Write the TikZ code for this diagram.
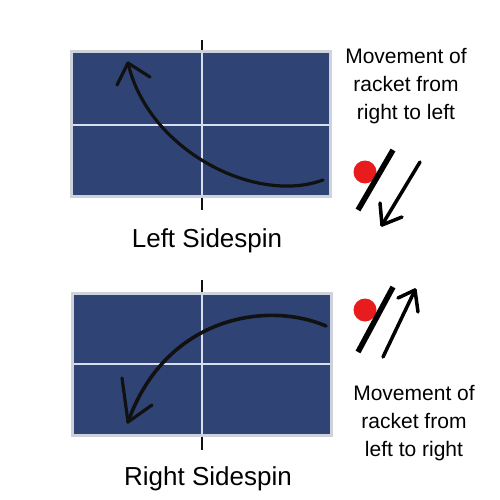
\documentclass[tikz,border=0pt]{standalone}
\usepackage{fontspec}
\setmainfont{Liberation Sans}
\usetikzlibrary{arrows.meta,positioning,calc}
\definecolor{tableblue}{HTML}{2F4474}
\definecolor{tableedge}{HTML}{CDD2DB}
\definecolor{tableline}{HTML}{D6DEF0}
\definecolor{ballred}{HTML}{E81C1C}
\definecolor{ink}{HTML}{111111}
\tikzset{
  tabletop/.style={fill=tableblue,draw=tableedge,line width=3pt},
  centreline/.style={draw=tableline,line width=1.4pt},
  netpost/.style={draw=ink,line width=2.6pt},
  spinpath/.style={draw=ink,line width=3.2pt,line cap=round},
  barb/.style={draw=ink,line width=3.2pt,line cap=round},
  racket/.style={draw=black,line width=5.5pt},
  moveline/.style={draw=black,line width=3.5pt,line cap=round},
  ball/.style={circle,fill=ballred,minimum size=23pt,inner sep=0pt},
  spintitle/.style={font=\fontsize{26}{31}\selectfont,anchor=base,inner sep=0pt},
  movenote/.style={font=\fontsize{21}{28}\selectfont,align=center}
}
\begin{document}
\begin{tikzpicture}[x=1pt,y=-1pt]
  \useasboundingbox[fill=white] (0,0) rectangle (500,500);

  % left sidespin table
  \draw[netpost] (202,40) -- (202,210);
  \draw[tabletop] (71.5,51.5) rectangle (330.5,196.5);
  \draw[centreline] (73,125) -- (329,125);
  \draw[centreline] (202,53) -- (202,195);
  \coordinate (lstart) at (323,180);
  \coordinate (ltip) at (128,63);
  \draw[spinpath] (lstart) .. controls (255,205) and (148,150) .. (ltip);
  \draw[barb] (ltip) -- ++(-11,22);
  \draw[barb] (ltip) -- ++(22,14);
  \node[spintitle] (lefttitle) at (207,247) {Left Sidespin};

  % racket right to left
  \node[movenote] (leftnote) at (406,86) {Movement of\\racket from\\right to left};
  \node[ball] (lball) at (365,172) {};
  \coordinate (lracktop) at (393,150);
  \coordinate (lrackbot) at (358,210);
  \draw[racket] (lracktop) -- (lrackbot);
  \coordinate (lmovefrom) at (420,162);
  \coordinate (lmoveto) at (382,225);
  \draw[moveline] (lmovefrom) -- (lmoveto);
  \draw[moveline] (lmoveto) -- ++(-2,-22);
  \draw[moveline] (lmoveto) -- ++(20,-8);

  % right sidespin table
  \draw[netpost] (202,280) -- (202,450);
  \draw[tabletop] (72.5,293.5) rectangle (331.5,435.5);
  \draw[centreline] (74,364) -- (330,364);
  \draw[centreline] (202,295) -- (202,434);
  \coordinate (rstart) at (326,326);
  \coordinate (rtip) at (128,422);
  \draw[spinpath,line width=3.6pt] (rstart) .. controls (265,300) and (165,318) .. (rtip);
  \draw[barb] (rtip) -- ++(-6,-44);
  \draw[barb] (rtip) -- ++(24,-17);
  \node[spintitle] (righttitle) at (208,485) {Right Sidespin};

  % racket left to right
  \node[ball] (rball) at (365,310) {};
  \coordinate (rracktop) at (393,287);
  \coordinate (rrackbot) at (358,352);
  \draw[racket] (rracktop) -- (rrackbot);
  \coordinate (rmovefrom) at (383,357);
  \coordinate (rmoveto) at (415,290);
  \draw[moveline] (rmovefrom) -- (rmoveto);
  \draw[moveline] (rmoveto) -- ++(-17,8);
  \draw[moveline] (rmoveto) -- ++(3,22);
  \node[movenote] (rightnote) at (414,423) {Movement of\\racket from\\left to right};
\end{tikzpicture}
\end{document}
